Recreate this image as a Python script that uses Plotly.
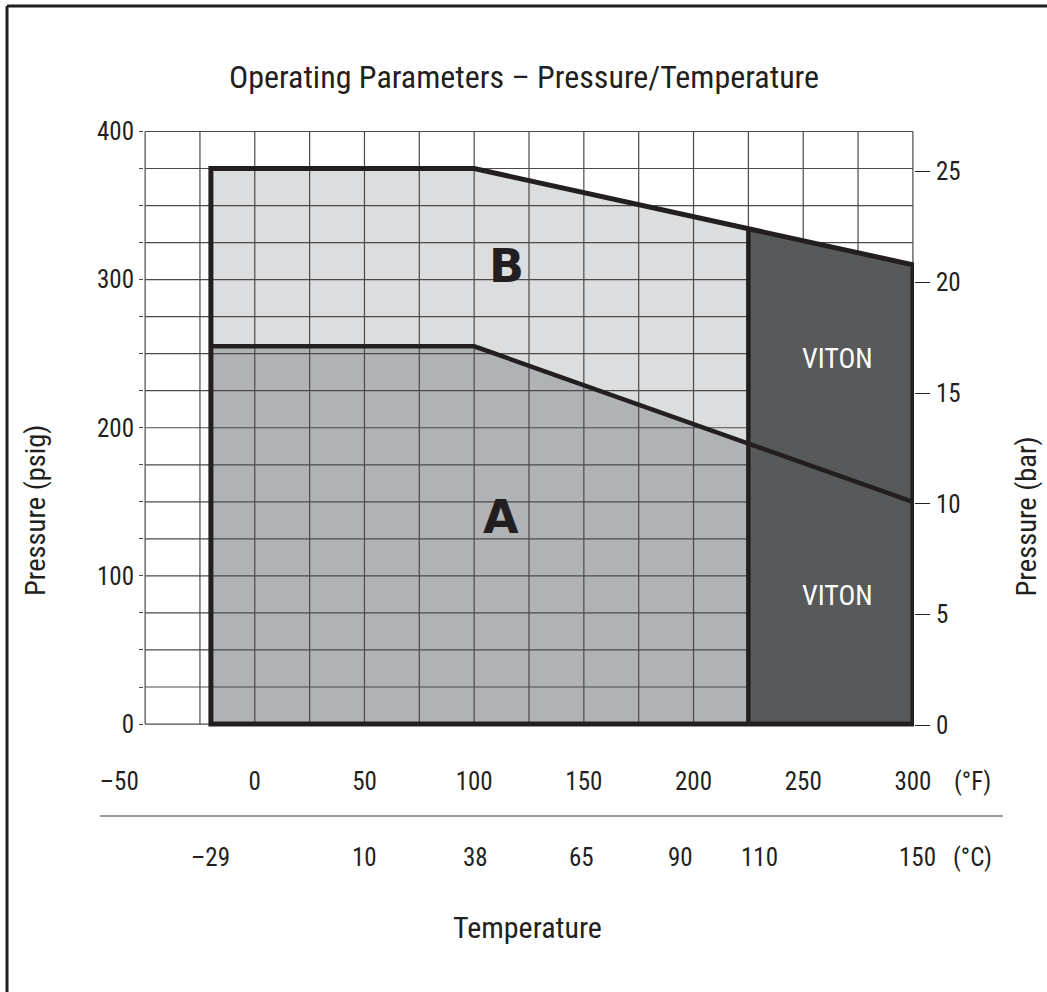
import numpy as np
import plotly.graph_objects as go

# ---------------- data ----------------
temp_f_breaks = [-20, 100, 300]          # °F break points of the rating curves
max_psig_B = [375, 375, 310]             # region B upper limit (psig)
max_psig_A = [255, 255, 150]             # region A upper limit (psig)
viton_start_f = 225                      # °F above which VITON seats are required

x_ticks_f = [-50, 0, 50, 100, 150, 200, 250, 300]
x_labels_f = ["–50" + "\u00a0" * 9, "0", "50", "100", "150", "200", "250", "300"]
c_labels = ["–29", "10", "38", "65", "90", "110", "150"]
c_values = [-29, 10, 38, 65, 90, 110, 150]
y_ticks_psig = [0, 100, 200, 300, 400]
y2_ticks_bar = [0, 5, 10, 15, 20, 25]
grid_step = 25

# ---------------- styles ----------------
FONT = ("Noto Sans ExtraCondensed, Noto Sans Condensed, Roboto Condensed, "
        "Liberation Sans Narrow, DejaVu Sans Condensed, sans-serif")
BOLD_FONT = "DejaVu Sans, sans-serif"
INK = "#231f20"
B_FILL = "#dcdddf"
A_FILL = "#b1b2b6"
VITON_FILL = "#58595b"
GRID = "#4a4a4a"

X_RANGE = [-50.5, 300.5]
Y_RANGE = [-2, 401]
Y2_RANGE = [-0.077, 26.88]

b_at_viton = float(np.interp(viton_start_f, temp_f_breaks, max_psig_B))
a_at_viton = float(np.interp(viton_start_f, temp_f_breaks, max_psig_A))
t0, t1, t2 = temp_f_breaks

fig = go.Figure()

# region B (light)
fig.add_trace(go.Scatter(
    x=[t0, t0, t1, viton_start_f, viton_start_f, t0],
    y=[0, max_psig_B[0], max_psig_B[1], b_at_viton, 0, 0],
    fill="toself", fillcolor=B_FILL, mode="lines", line=dict(width=0),
    hoverinfo="skip", showlegend=False))
# region A (medium)
fig.add_trace(go.Scatter(
    x=[t0, t0, t1, viton_start_f, viton_start_f, t0],
    y=[0, max_psig_A[0], max_psig_A[1], a_at_viton, 0, 0],
    fill="toself", fillcolor=A_FILL, mode="lines", line=dict(width=0),
    hoverinfo="skip", showlegend=False))

# grid (drawn over regions A and B)
gx, gy = [], []
for v in np.arange(x_ticks_f[0], x_ticks_f[-1] + 1, grid_step):
    gx += [v, v, None]
    gy += [0, 400, None]
for v in np.arange(0, 401, grid_step):
    gx += [x_ticks_f[0], x_ticks_f[-1], None]
    gy += [v, v, None]
fig.add_trace(go.Scatter(x=gx, y=gy, mode="lines", line=dict(color=GRID, width=1.2),
                         hoverinfo="skip", showlegend=False))

# VITON region (dark, hides grid)
fig.add_trace(go.Scatter(
    x=[viton_start_f, viton_start_f, t2, t2, viton_start_f],
    y=[0, b_at_viton, max_psig_B[2], 0, 0],
    fill="toself", fillcolor=VITON_FILL, mode="lines", line=dict(width=0),
    hoverinfo="skip", showlegend=False))

# outlines
fig.add_trace(go.Scatter(
    x=[t0, t0, t1, t2, t2, t0, t0],
    y=[0, max_psig_B[0], max_psig_B[1], max_psig_B[2], 0, 0, max_psig_B[0]],
    mode="lines", line=dict(color=INK, width=5), hoverinfo="skip", showlegend=False))
fig.add_trace(go.Scatter(
    x=temp_f_breaks, y=max_psig_A,
    mode="lines", line=dict(color=INK, width=4.5), hoverinfo="skip", showlegend=False))
fig.add_trace(go.Scatter(
    x=[viton_start_f, viton_start_f], y=[0, b_at_viton],
    mode="lines", line=dict(color=INK, width=4.5), hoverinfo="skip", showlegend=False))

# helper for the bar axis
fig.add_trace(go.Scatter(x=[t2], y=[0], yaxis="y2", mode="markers",
                         marker=dict(opacity=0), hoverinfo="skip", showlegend=False))

tick_font = dict(family=FONT, size=25, color=INK)

fig.update_layout(
    width=1047, height=992,
    margin=dict(l=144, r=133, t=130, b=265),
    paper_bgcolor="white", plot_bgcolor="white",
    showlegend=False,
    title=dict(text="Operating Parameters – Pressure/Temperature",
               x=0.4935, xref="paper", xanchor="center",
               y=1 - 77 / 992, yref="container", yanchor="middle",
               font=dict(family=FONT, size=32, color=INK)),
    xaxis=dict(range=X_RANGE, showgrid=False, zeroline=False, showline=False,
               tickvals=x_ticks_f, ticktext=x_labels_f, ticks="",
               ticklabelstandoff=37, tickfont=tick_font, fixedrange=True),
    yaxis=dict(range=Y_RANGE, showgrid=False, zeroline=False, showline=False,
               tickvals=list(np.arange(0, 401, grid_step)),
               ticktext=[str(v) if v in y_ticks_psig else "" for v in np.arange(0, 401, grid_step)],
               ticks="outside", ticklen=4, tickwidth=1.2, tickcolor=GRID,
               ticklabelstandoff=0, tickfont=tick_font, fixedrange=True),
    yaxis2=dict(range=Y2_RANGE, overlaying="y", side="right", showgrid=False,
                zeroline=False, showline=False, tickvals=y2_ticks_bar,
                ticks="outside", ticklen=15, tickwidth=1.3, tickcolor=INK,
                ticklabelstandoff=1, tickfont=tick_font, fixedrange=True),
)


def f_to_paper(f):
    return (f - X_RANGE[0]) / (X_RANGE[1] - X_RANGE[0])


ann = []
# Celsius labels placed at their Fahrenheit equivalents
for lab, c in zip(c_labels, c_values):
    ann.append(dict(x=f_to_paper(c * 9 / 5 + 32), y=-0.2178, xref="paper", yref="paper", text=lab,
                    showarrow=False, xanchor="center", yanchor="middle", font=tick_font))
ann += [
    dict(x=1.0766, y=-0.0905, xref="paper", yref="paper", text="(°F)", showarrow=False,
         xanchor="center", yanchor="middle", font=tick_font),
    dict(x=1.0766, y=-0.2178, xref="paper", yref="paper", text="(°C)", showarrow=False,
         xanchor="center", yanchor="middle", font=tick_font),
    dict(x=0.4987, y=-0.336, xref="paper", yref="paper", text="Temperature", showarrow=False,
         xanchor="center", yanchor="middle", font=dict(family=FONT, size=30, color=INK)),
    dict(x=-0.1403, y=0.3635, xref="paper", yref="paper", text="Pressure (psig)", showarrow=False,
         textangle=-90, xanchor="center", yanchor="middle", font=dict(family=FONT, size=28.5, color=INK)),
    dict(x=1.146, y=0.3534, xref="paper", yref="paper", text="Pressure (bar)", showarrow=False,
         textangle=-90, xanchor="center", yanchor="middle", font=dict(family=FONT, size=28.5, color=INK)),
    dict(x=114.9, y=309.3, xref="x", yref="y", text="<b>B</b>", showarrow=False,
         font=dict(family=BOLD_FONT, size=46, color=INK)),
    dict(x=112.3, y=139.8, xref="x", yref="y", text="<b>A</b>", showarrow=False,
         font=dict(family=BOLD_FONT, size=46, color=INK)),
    dict(x=265.4, y=246.5, xref="x", yref="y", text="VITON", showarrow=False,
         font=dict(family=FONT, size=28, color="white")),
    dict(x=265.4, y=87.1, xref="x", yref="y", text="VITON", showarrow=False,
         font=dict(family=FONT, size=28, color="white")),
]
fig.update_layout(annotations=ann)

# page frame (left and top edges) and the °F / °C separator
fig.add_shape(type="line", xref="paper", yref="paper", x0=-0.1779, x1=-0.1779, y0=1.2077, y1=-0.5,
              line=dict(color=INK, width=3))
fig.add_shape(type="line", xref="paper", yref="paper", x0=-0.1779, x1=1.25, y0=1.2077, y1=1.2077,
              line=dict(color=INK, width=3))
fig.add_shape(type="line", xref="paper", yref="paper", x0=-0.0571, x1=1.1156, y0=-0.1491, y1=-0.1491,
              line=dict(color="#7a7a7a", width=1.5))

fig.write_html("out.html", config={"displayModeBar": False},
               post_script="document.body.style.margin='0';")
